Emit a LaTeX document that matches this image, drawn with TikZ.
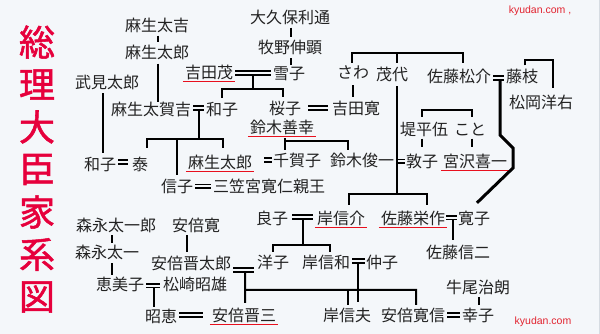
\documentclass[tikz,border=0pt]{standalone}
\usepackage{fontspec}
\setmainfont{Liberation Sans}
\newfontfamily\jp{Noto Sans CJK JP}
\newfontfamily\ttlfont{Noto Sans CJK JP}[FakeBold=1.5]
\usetikzlibrary{calc}
\definecolor{bgc}{HTML}{F4F7FA}
\definecolor{txt}{HTML}{222222}
\definecolor{ttlred}{HTML}{E6003C}
\definecolor{ulred}{HTML}{E8101E}
\definecolor{webred}{HTML}{E22430}
\definecolor{edgec}{HTML}{D6DCE2}
\begin{document}
\begin{tikzpicture}[x=1pt,y=-1pt,
  pn/.style={inner sep=0pt, text height=13.5pt, text depth=1.3pt, text=txt, font={\jp\fontsize{16pt}{16pt}\selectfont}},
  ln/.style={draw=black, line width=2pt},
  thinln/.style={draw=black, line width=1.6pt},
  thk/.style={draw=black, line width=3pt, line join=miter},
  eq/.style={draw=black, line width=1.6pt, double=bgc, double distance=2pt},
  ul/.style={draw=ulred, line width=1.6pt},
  web/.style={inner sep=0pt, text=webred, font={\fontsize{10.5pt}{12pt}\selectfont}},
  ttl/.style={inner sep=0pt, text=ttlred, font={\ttlfont\fontsize{36pt}{36pt}\selectfont}}]
\useasboundingbox (0,0) rectangle (600,334);
\fill[bgc] (0,0) rectangle (600,334);
\draw[edgec, line width=1pt] (599.5,0) -- (599.5,334);

% title
\foreach \c [count=\i] in {総,理,大,臣,家,系,図}
  \node[ttl] (t\i) at (37,{42+42.5*(\i-1)}) {\c};

% web marks
\node[web] (kyu1) at (540,11) {kyudan.com ,};
\node[web] (kyu2) at (543,322) {kyudan.com};

% people
\node[pn] (taikichi) at (157,25) {麻生太吉};
\node[pn] (taro1) at (157,52) {麻生太郎};
\node[pn] (okubo) at (290,17) {大久保利通};
\node[pn] (makino) at (290,47) {牧野伸顕};
\node[pn] (takemi) at (107,82) {武見太郎};
\node[pn] (yoshida) at (209,72) {吉田茂};
\node[pn] (yukiko) at (289,73) {雪子};
\node[pn] (sawa) at (353,72) {さわ};
\node[pn] (moyo) at (392,74) {茂代};
\node[pn] (matsusuke) at (459,76) {佐藤松介};
\node[pn] (fujie) at (522,76) {藤枝};
\node[pn] (matsuoka) at (541,102.5) {松岡洋右};
\node[pn] (takakichi) at (151,109) {麻生太賀吉};
\node[pn] (kazuko) at (222,109) {和子};
\node[pn] (sakurako) at (285,108) {桜子};
\node[pn] (hiroshi) at (356,108) {吉田寛};
\node[pn] (zenko) at (282,127) {鈴木善幸};
\node[pn] (tsutsumi) at (424,129.5) {堤平伍};
\node[pn] (koto) at (470,129.5) {こと};
\node[pn] (kazuko2) at (100,164) {和子};
\node[pn] (tai) at (140,164) {泰};
\node[pn] (taro2) at (220,162) {麻生太郎};
\node[pn] (chikako) at (297,160) {千賀子};
\node[pn] (shunichi) at (362,160) {鈴木俊一};
\node[pn] (atsuko) at (422,161) {敦子};
\node[pn] (miyazawa) at (475,161) {宮沢喜一};
\node[pn] (nobuko) at (177,186) {信子};
\node[pn] (mikasa) at (269,186) {三笠宮寛仁親王};
\node[pn] (yoshiko) at (272,218) {良子};
\node[pn] (kishi) at (341,218) {岸信介};
\node[pn] (eisaku) at (413,218) {佐藤栄作};
\node[pn] (hiroko) at (474,218) {寛子};
\node[pn] (shinji) at (458,252) {佐藤信二};
\node[pn] (morinaga1) at (116,225) {森永太一郎};
\node[pn] (abekan) at (196,225) {安倍寛};
\node[pn] (morinaga2) at (107,252) {森永太一};
\node[pn] (shintaro) at (191,263) {安倍晋太郎};
\node[pn] (yoko) at (273,262) {洋子};
\node[pn] (nobukazu) at (326,262) {岸信和};
\node[pn] (nakako) at (382,262) {仲子};
\node[pn] (emiko) at (120,284.5) {恵美子};
\node[pn] (matsuzaki) at (195,284.5) {松崎昭雄};
\node[pn] (ushio) at (478,287) {牛尾治朗};
\node[pn] (akie) at (161,316) {昭恵};
\node[pn] (shinzo) at (244,315) {安倍晋三};
\node[pn] (nobuo) at (347,315) {岸信夫};
\node[pn] (hironobu) at (413,315) {安倍寛信};
\node[pn] (sachiko) at (478,315) {幸子};

% underlines (prime ministers)
\foreach \n in {yoshida,zenko,taro2,miyazawa,kishi,eisaku,shinzo}
  \draw[ul] ($(\n.south west)+(-2,2)$) -- ($(\n.south east)+(2,2)$);

% marriages
\draw[eq] ($(yoshida.east)+(2,1)$) -- ($(yoshida.east -| yukiko.west)+(-2,1)$);
\draw[eq] ($(takakichi.east)+(2,-1)$) -- ($(takakichi.east -| kazuko.west)+(-2,-1)$);
\draw[eq] ($(sakurako.east)+(7,0)$) -- ($(sakurako.east -| hiroshi.west)+(-4,0)$);
\draw[eq] ($(matsusuke.east)+(2,2)$) -- ($(matsusuke.east -| fujie.west)+(-2,2)$);
\draw[eq] ($(kazuko2.east)+(2,-2)$) -- ($(kazuko2.east -| tai.west)+(-4,-2)$);
\draw[eq] ($(taro2.east)+(12,-2)$) -- ($(taro2.east -| chikako.west)+(-0.5,-2)$);
\draw[eq] ($(shunichi.east)+(2,1.5)$) -- ($(shunichi.east -| atsuko.west)+(-1,1.5)$);
\draw[eq] ($(nobuko.east)+(2,0.5)$) -- ($(nobuko.east -| mikasa.west)+(-2,0.5)$);
\draw[eq] ($(yoshiko.east)+(4,-1)$) -- ($(yoshiko.east -| kishi.west)+(-4,-1)$);
\draw[eq] ($(eisaku.east)+(1,-0.5)$) -- ($(eisaku.east -| hiroko.west)+(-1,-0.5)$);
\draw[eq] ($(shintaro.east)+(2,7)$) -- ($(shintaro.east -| yoko.west)+(-3,7)$);
\draw[eq] ($(nobukazu.east)+(2,-1)$) -- ($(nobukazu.east -| nakako.west)+(-1,-1)$);
\draw[eq] ($(emiko.east)+(2,1)$) -- ($(emiko.east -| matsuzaki.west)+(-3,1)$);
\draw[eq] ($(akie.east)+(2,-1)$) -- ($(akie.east -| shinzo.west)+(-9,-1)$);
\draw[eq] ($(hironobu.east)+(2,0)$) -- ($(hironobu.east -| sachiko.west)+(-2,0)$);

% midpoints of marriages
\coordinate (m1) at ($(yoshida.east)!0.5!(yoshida.east -| yukiko.west)$);
\coordinate (m2) at ($(takakichi.east)!0.5!(takakichi.east -| kazuko.west)$);
\coordinate (m4) at ($(matsusuke.east)!0.5!(matsusuke.east -| fujie.west)$);
\coordinate (m9) at ($(yoshiko.east)!0.5!(yoshiko.east -| kishi.west)$);
\coordinate (m10) at ($(eisaku.east)!0.5!(eisaku.east -| hiroko.west)$);
\coordinate (m12) at ($(shintaro.east)!0.5!(shintaro.east -| yoko.west)$);
\coordinate (m13) at ($(nobukazu.east)!0.5!(nobukazu.east -| nakako.west)$);
\coordinate (m14) at ($(emiko.east)!0.5!(emiko.east -| matsuzaki.west)$);

% simple parent-child lines
\draw[ln] ($(taikichi.south)+(1,3)$) -- ($(taro1.north)+(1,-2)$);
\draw[ln] ($(taro1.south)+(1,4)$) -- ($(taro1.south |- takakichi.north)+(1,1)$);
\draw[ln] ($(okubo.south)+(1,3)$) -- ($(makino.north)+(1,-2)$);
\draw[ln] ($(makino.south)+(1,3.5)$) -- ($(makino.south |- yukiko.north)+(1,0)$);
\draw[ln] ($(takemi.south)+(-4,3.5)$) -- ($(takemi.south |- kazuko2.north)+(-4,-3.5)$);
\draw[ln] ($(sawa.south)+(0,5.6)$) -- ($(sawa.south |- hiroshi.north)+(0,-3.6)$);
\draw[ln] ($(morinaga1.south)+(-4,2.6)$) -- ($(morinaga2.north)+(5,-1.6)$);
\draw[ln] ($(morinaga2.south)+(5,3.6)$) -- ($(emiko.north)+(-8,-1.6)$);
\draw[ln] ($(abekan.south)+(-9,2.6)$) -- ($(shintaro.north)+(-4,-3.6)$);
\draw[ln] ($(ushio.south)+(1,2.6)$) -- ($(sachiko.north)+(1,-2.6)$);

% Yoshida Shigeru = Yukiko children
\draw[ln] ($(m1)+(0,3)$) -- ($(m1)+(0,17)$) coordinate (j1);
\draw[ln] ($(kazuko.north)+(0,-3.6)$) |- (j1) -| ($(sakurako.north)+(-2,-3)$);

% Aso Takakichi = Kazuko children
\draw[ln] ($(m2)+(0.5,1.5)$) -- ($(m2)+(0.5,30)$) coordinate (j2);
\draw[ln] ($(tai.north)+(7,-8.6)$) |- (j2) -| ($(taro2.north)+(3,-6.6)$);
\draw[ln] ($(nobuko.north)+(0,-3.6)$) -- (nobuko.north |- j2);

% siblings sawa / moyo / matsusuke
\coordinate (jsib) at ($(moyo.north)+(5,-13.6)$);
\draw[ln] ($(sawa.north)+(-1,-1.6)$) |- (jsib) -| ($(matsusuke.north)+(4,-5.6)$);
\draw[ln] (jsib) -- ($(moyo.north)+(5,-3.6)$);

% fujie / matsuoka
\draw[ln] ($(fujie.north)+(3,-3)$) -- ++(0,-5) -| ($(matsuoka.north)+(12,-7)$);

% Suzuki Zenko children
\draw[ln] ($(zenko.south)+(3,3.6)$) -- ($(chikako.north)+(-12,-2.6)$);
\draw[ln] ($(zenko.south)+(3,6.6)$) -| ($(shunichi.north)+(-14,-2.6)$);

% Tsutsumi / Koto
\draw[ln] ($(tsutsumi.north)+(-2,-5)$) -- ++(0,-7) -| ($(koto.north)+(2,-5)$);
\draw[thinln] ($(tsutsumi.south)+(-2,1.5)$) -- ($(atsuko.north)+(0,-6.6)$);
\draw[thinln] ($(koto.south)+(2,1.5)$) -- ($(miyazawa.north)+(-3,-6.6)$);

% Moyo children
\coordinate (jm) at ($(moyo.south)+(5,112.6)$);
\draw[ln] ($(moyo.south)+(5,4.6)$) -- (jm);
\draw[ln] ($(kishi.north)+(8,-5.6)$) |- (jm) -| ($(eisaku.north)+(14,-5.6)$);

% Matsusuke = Fujie to Hiroko
\draw[thk] ($(m4)+(1.5,4)$) -- ++(0,55) -- ++(13,13) -- ++(0,20) -- ($(hiroko.north)+(3,-7.6)$);

% Yoshiko = Kishi children
\draw[ln] ($(m9)+(0.5,1)$) -- ($(m9)+(0.5,27)$) coordinate (j9);
\draw[ln] ($(yoko.north)+(0,-2.6)$) |- (j9) -| ($(nobukazu.north)+(4,-2.6)$);

% Eisaku = Hiroko child
\draw[ln] ($(m10)+(1.5,1.5)$) -- ($(m10 |- shinji.north)+(1.5,-4.6)$);

% Shintaro = Yoko children
\draw[ln] ($(m12)+(1,9)$) -- ($(shinzo.north)+(1,-4.6)$);
\draw[ln] ($(m12)+(1,27)$) -- ($(hironobu.north)+(3,-17.6)$) -- ($(hironobu.north)+(3,-2.6)$);
\draw[ln] ($(nobuo.north)+(1,-17.6)$) -- ($(nobuo.north)+(1,-2.6)$);

% Nobukazu = Nakako child
\draw[ln] ($(m13)+(0,1.5)$) -- ($(m13 |- nobuo.north)+(0,-5.6)$);

% Emiko = Matsuzaki child
\draw[ln] ($(m14)+(0,3)$) -- ($(m14 |- akie.north)+(0,-1.6)$);
\end{tikzpicture}
\end{document}
